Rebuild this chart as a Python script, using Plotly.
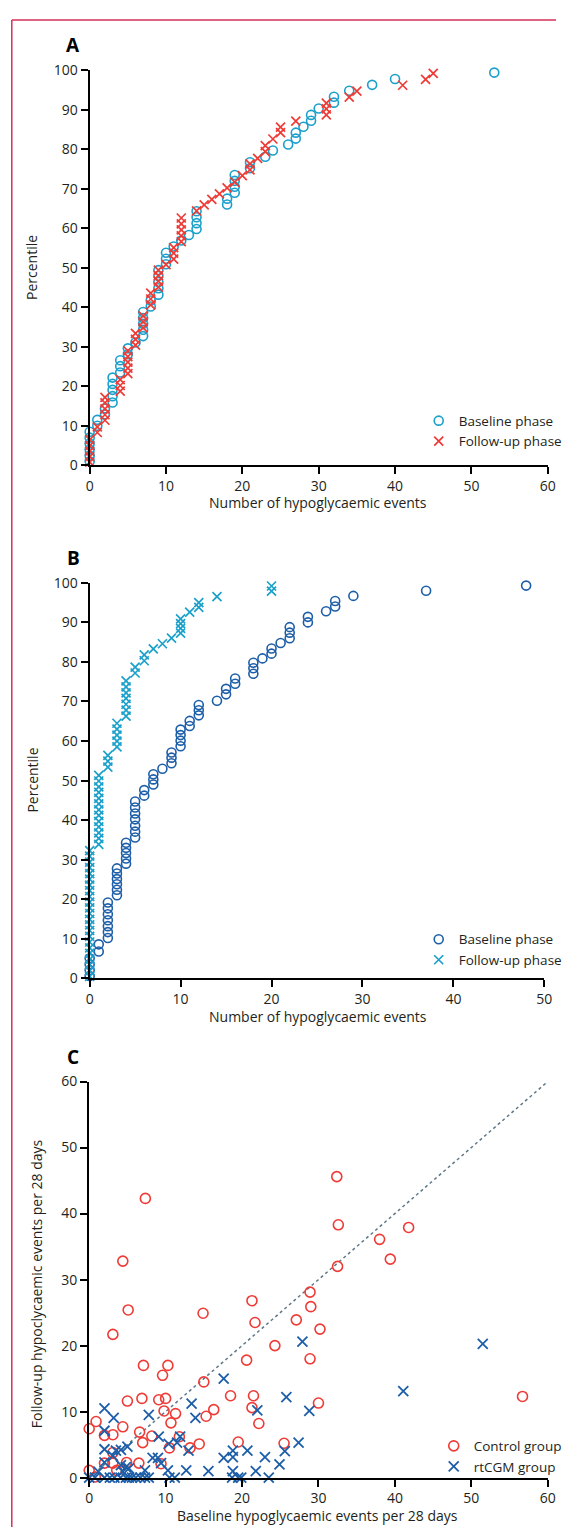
import plotly.graph_objects as go

# ---------------- Data ----------------
# Panel A
a_base_x = [0, 0, 0, 0, 0, 0, 1, 1, 2, 2, 3, 3, 3, 3, 3, 4, 4, 4, 5, 5, 6,
            7, 7, 7, 7, 7, 8, 8, 9, 9, 9, 9, 9, 10, 10, 10, 11, 12, 13,
            14, 14, 14, 14, 18, 18, 19, 19, 19, 19, 21, 21, 23, 24, 26, 27, 27,
            28, 29, 29, 30, 32, 32, 34, 37, 40, 53]
a_base_y = [1.0, 2.5, 4.0, 5.5, 7.0, 8.5, 10.0, 11.5, 12.9, 14.4, 15.9, 17.5, 19.1, 20.6, 22.2,
            23.5, 25.1, 26.6, 28.1, 29.6, 31.1, 32.7, 34.3, 35.8, 37.3, 38.8, 40.2, 41.7,
            43.2, 44.8, 46.4, 47.9, 49.4, 50.9, 52.3, 53.8, 55.4, 56.9, 58.3,
            59.8, 61.3, 62.8, 64.3, 66.0, 67.5, 69.0, 70.5, 72.0, 73.5, 75.2, 76.7, 78.1, 79.7,
            81.2, 82.7, 84.2, 85.7, 87.2, 88.7, 90.3, 91.8, 93.3, 94.8, 96.3, 97.8, 99.4]
a_fu_x = [0, 0, 0, 0, 0, 1, 1, 2, 2, 2, 2, 2, 4, 4, 4, 5, 5, 5, 5, 5, 6, 6, 6,
          7, 7, 7, 8, 8, 8, 9, 9, 9, 9, 10, 11, 11, 11, 12, 12, 12, 12, 12,
          14, 15, 16, 17, 18, 19, 20, 21, 21, 22, 23, 23, 24, 25, 25, 27,
          31, 31, 31, 34, 35, 41, 44, 45]
a_fu_y = [0.8, 2.2, 3.6, 5.0, 6.5, 8.3, 9.7, 11.4, 12.8, 14.3, 15.8, 17.2, 18.8, 20.2, 21.7,
          23.2, 24.6, 26.1, 27.5, 29.0, 30.4, 31.9, 33.4, 34.8, 36.3, 37.8, 40.6, 42.1, 43.6,
          45.1, 46.6, 48.0, 49.4, 50.8, 52.2, 53.7, 55.1, 56.6, 58.1, 59.6, 61.1, 62.6,
          64.4, 65.9, 67.3, 68.7, 70.2, 71.7, 73.3, 74.8, 76.3, 77.7, 79.4, 80.9, 82.6,
          84.2, 85.6, 87.1, 88.7, 90.2, 91.7, 93.2, 94.7, 96.2, 97.7, 99.2]

# Panel B
b_base_x = [0, 0, 0, 0, 1, 1, 2, 2, 2, 2, 2, 2, 2, 3, 3, 3, 3, 3, 3, 4, 4, 4, 4, 4,
            5, 5, 5, 5, 5, 5, 5, 6, 6, 7, 7, 7, 8, 9, 9, 9, 10, 10, 10, 10, 11, 11,
            12, 12, 12, 14, 15, 15, 16, 16, 18, 18, 18, 19, 20, 20, 21, 22, 22, 22,
            24, 24, 26, 27, 27, 29, 37, 48]
b_base_y = [0.6, 2.1, 3.6, 5.1, 6.8, 8.6, 10.2, 11.7, 13.2, 14.7, 16.2, 17.7, 19.2,
            21.0, 22.4, 23.8, 25.1, 26.5, 27.8, 29.0, 30.3, 31.7, 33.0, 34.3,
            35.6, 37.1, 38.6, 40.2, 41.7, 43.2, 44.7, 46.2, 47.6, 49.0, 50.3, 51.6, 53.0,
            54.4, 55.8, 57.1, 58.7, 60.1, 61.5, 62.9, 63.8, 65.1, 66.5, 67.8, 69.1, 70.2,
            71.8, 73.2, 74.5, 75.8, 77.0, 78.4, 79.8, 80.9, 82.1, 83.4, 84.8, 86.0, 87.4, 88.8,
            90.0, 91.4, 92.8, 94.0, 95.4, 96.7, 98.0, 99.3]
b_fu_x = [0] * 23 + [1] * 13 + [2, 2, 2, 3, 3, 3, 3, 3, 4, 4, 4, 4, 4, 4, 4, 5, 5, 6, 6,
                                7, 8, 9, 10, 10, 10, 10, 11, 12, 12, 14, 20, 20]
b_fu_y = [0.5, 1.9, 3.4, 4.8, 6.3, 7.7, 9.2, 10.6, 12.1, 13.5, 14.9, 16.4, 17.8, 19.3,
          20.7, 22.2, 23.6, 25.1, 26.5, 28.0, 29.4, 30.9, 32.3,
          33.9, 35.4, 36.8, 38.3, 39.7, 41.2, 42.6, 44.1, 45.5, 47.0, 48.4, 49.9, 51.3,
          53.4, 54.9, 56.4, 58.5, 60.0, 61.5, 63.0, 64.5,
          66.3, 67.8, 69.3, 70.8, 72.2, 73.7, 75.2, 77.2, 78.7, 80.3, 81.8,
          83.3, 84.6, 86.0, 87.3, 88.5, 89.7, 90.9, 92.6, 93.8, 95.0, 96.5, 97.9, 99.2]

# Panel C
c_ctrl_x = [5.1, 3.1, 14.9, 7.1, 10.3, 9.6, 15.0, 5.0, 6.9, 9.1, 10.0, 18.5, 9.8, 11.3, 16.3,
            15.3, 10.7, 0.9, 0.0, 4.4, 3.1, 2.0, 6.6, 8.2, 7.0, 11.8, 10.5, 13.2, 14.4, 3.1,
            2.0, 3.1, 4.9, 6.5, 9.4, 3.6, 0.0, 0.8, 19.5, 7.35, 4.4, 32.4, 32.6, 41.8, 38.0,
            39.4, 32.5, 28.9, 21.3, 29.0, 27.1, 21.7, 30.2, 24.3, 20.6, 28.9, 21.5, 30.0,
            21.3, 22.2, 56.7, 25.5]
c_ctrl_y = [25.4, 21.7, 24.9, 17.0, 17.0, 15.5, 14.5, 11.6, 12.0, 11.8, 12.0, 12.4, 10.1, 9.7, 10.3,
            9.3, 8.3, 8.5, 7.4, 7.7, 6.5, 6.4, 6.9, 6.3, 5.3, 6.2, 4.5, 4.5, 5.1, 3.8,
            2.2, 2.2, 2.3, 2.2, 2.1, 1.1, 1.1, 0.1, 5.4, 42.3, 32.8, 45.6, 38.3, 37.9, 36.1,
            33.1, 32.0, 28.1, 26.8, 25.9, 23.9, 23.5, 22.5, 20.0, 17.8, 18.0, 12.4, 11.3,
            10.6, 8.2, 12.3, 5.2]
c_cgm_x = [2.0, 3.2, 2.0, 7.8, 13.4, 13.9, 17.6, 9.1, 10.4, 11.5, 11.9, 13.0, 2.0, 4.15, 5.0,
           3.1, 3.5, 8.3, 9.0, 9.4, 2.0, 4.15, 4.8, 5.2, 4.4, 1.2, 7.3, 10.3, 12.7, 15.6,
           17.6, 18.8, 18.8, 18.8,
           0.0, 0.75, 2.0, 2.7, 3.3, 4.1, 4.8, 5.2, 5.6, 6.1, 6.7, 7.3, 7.8, 10.5, 11.2,
           27.9, 51.5, 41.1, 25.8, 22.0, 28.8, 27.4, 20.7, 25.6, 23.0, 24.9, 21.8,
           23.5, 18.7, 19.5, 19.9]
c_cgm_y = [10.5, 9.05, 7.1, 9.5, 11.2, 9.05, 15.0, 6.2, 5.1, 5.3, 6.2, 4.1, 4.3, 4.2, 4.7,
           3.3, 4.1, 3.0, 3.0, 2.2, 2.3, 1.9, 1.6, 1.4, 0.9, 0.9, 1.1, 1.1, 1.1, 1.0,
           3.0, 3.1, 4.1, 1.0,
           0, 0, 0, 0, 0, 0, 0, 0, 0, 0, 0, 0, 0, 0, 0,
           20.6, 20.25, 13.1, 12.2, 10.2, 10.1, 5.3, 4.1, 4.0, 3.1, 2.0, 1.0,
           0, 0, 0, 0]
identity = [0, 60]

# tick values / labels
a_xticks = [0, 10, 20, 30, 40, 50, 60]
b_xticks = [0, 10, 20, 30, 40, 50]
pct_ticks = [0, 10, 20, 30, 40, 50, 60, 70, 80, 90, 100]
c_ticks = [0, 10, 20, 30, 40, 50, 60]

# ---------------- Styling ----------------
W, H = 567, 1536
FONT = "Open Sans"
TXT = "#231f20"
CYAN = "#1ba0cb"
RED = "#ee3b36"
DBLUE = "#1d5ea8"
BORDER = "#d62f58"


def dx(px):
    return px / W


def dy(py):
    return 1 - py / H


fig = go.Figure()

circ = dict(symbol="circle-open", size=9)
cross = dict(symbol="x-thin-open", size=9)

fig.add_trace(go.Scatter(x=a_base_x, y=a_base_y, mode="markers", name="Baseline phase",
                         marker=dict(**circ, color=CYAN, line=dict(width=1.6, color=CYAN)),
                         xaxis="x", yaxis="y", legend="legend", cliponaxis=False))
fig.add_trace(go.Scatter(x=a_fu_x, y=a_fu_y, mode="markers", name="Follow-up phase",
                         marker=dict(**cross, color=RED, line=dict(width=1.7, color=RED)),
                         xaxis="x", yaxis="y", legend="legend", cliponaxis=False))

fig.add_trace(go.Scatter(x=b_base_x, y=b_base_y, mode="markers", name="Baseline phase",
                         marker=dict(**circ, color=DBLUE, line=dict(width=1.6, color=DBLUE)),
                         xaxis="x2", yaxis="y2", legend="legend2", cliponaxis=False))
fig.add_trace(go.Scatter(x=b_fu_x, y=b_fu_y, mode="markers", name="Follow-up phase",
                         marker=dict(**cross, color=CYAN, line=dict(width=1.7, color=CYAN)),
                         xaxis="x2", yaxis="y2", legend="legend2", cliponaxis=False))

fig.add_trace(go.Scatter(x=identity, y=identity, mode="lines", showlegend=False,
                         line=dict(color="#5f7888", width=1.5, dash="3px,3px"),
                         xaxis="x3", yaxis="y3", hoverinfo="skip"))
fig.add_trace(go.Scatter(x=c_ctrl_x, y=c_ctrl_y, mode="markers", name="Control group",
                         marker=dict(symbol="circle-open", size=10, color=RED,
                                     line=dict(width=1.6, color=RED)),
                         xaxis="x3", yaxis="y3", legend="legend3", cliponaxis=False))
fig.add_trace(go.Scatter(x=c_cgm_x, y=c_cgm_y, mode="markers", name="rtCGM group",
                         marker=dict(symbol="x-thin-open", size=10, color=DBLUE,
                                     line=dict(width=1.8, color=DBLUE)),
                         xaxis="x3", yaxis="y3", legend="legend3", cliponaxis=False))

axis_common = dict(showline=True, linecolor="black", linewidth=2, ticks="outside",
                   ticklen=7, tickwidth=2, tickcolor="black", showgrid=False,
                   zeroline=False, tickfont=dict(family=FONT, size=14, color=TXT),
                   fixedrange=True)

LEGFONT = dict(family=FONT, size=13.5, color=TXT)

fig.update_layout(
    width=W, height=H, autosize=False,
    margin=dict(l=0, r=0, t=0, b=0),
    paper_bgcolor="white", plot_bgcolor="white",
    font=dict(family=FONT, size=14, color=TXT),
    xaxis=dict(domain=[dx(88), dx(558.5)], range=[0, 60], tickvals=a_xticks, anchor="y", **axis_common),
    yaxis=dict(domain=[dy(461), dy(61)], range=[0, 100], tickvals=pct_ticks, anchor="x", **axis_common),
    xaxis2=dict(domain=[dx(88), dx(555)], range=[0, 50], tickvals=b_xticks, anchor="y2", **axis_common),
    yaxis2=dict(domain=[dy(980.5), dy(580)], range=[0, 100], tickvals=pct_ticks, anchor="x2", **axis_common),
    xaxis3=dict(domain=[dx(87.5), dx(558.5)], range=[0, 60], tickvals=c_ticks, anchor="y3", **axis_common),
    yaxis3=dict(domain=[dy(1486), dy(1085)], range=[0, 60], tickvals=c_ticks, anchor="x3", **axis_common),
    legend=dict(x=dx(578), y=dy(453), xanchor="right", yanchor="bottom",
                bgcolor="rgba(0,0,0,0)", font=LEGFONT, itemwidth=30, tracegroupgap=0),
    legend2=dict(x=dx(578), y=dy(978), xanchor="right", yanchor="bottom",
                 bgcolor="rgba(0,0,0,0)", font=LEGFONT, itemwidth=30, tracegroupgap=0),
    legend3=dict(x=dx(578), y=dy(1491), xanchor="right", yanchor="bottom",
                 bgcolor="rgba(0,0,0,0)", font=LEGFONT, itemwidth=30, tracegroupgap=0),
    showlegend=True,
)

annos = [
    dict(text="<b>A</b>", x=dx(71), y=dy(35), size=19),
    dict(text="<b>B</b>", x=dx(71), y=dy(555), size=19),
    dict(text="<b>C</b>", x=dx(71), y=dy(1060), size=19),
    dict(text="Number of hypoglycaemic events", x=dx(323), y=dy(499), size=14),
    dict(text="Number of hypoglycaemic events", x=dx(323), y=dy(1019), size=14),
    dict(text="Baseline hypoglycaemic events per 28 days", x=dx(322), y=dy(1524), size=14),
    dict(text="Percentile", x=dx(29), y=dy(261), size=14, angle=-90),
    dict(text="Percentile", x=dx(29), y=dy(780), size=14, angle=-90),
    dict(text="Follow-up hypoclycaemic events per 28 days", x=dx(33), y=dy(1290), size=14, angle=-90),
]
for a in annos:
    fig.add_annotation(text=a["text"], x=a["x"], y=a["y"], xref="paper", yref="paper",
                       showarrow=False, xanchor="center", yanchor="middle",
                       textangle=a.get("angle", 0),
                       font=dict(family=FONT, size=a["size"], color=TXT if a["size"] < 19 else "black"))

# page frame lines
fig.add_shape(type="line", xref="paper", yref="paper", x0=dx(8), x1=1.0, y0=dy(10), y1=dy(10),
              line=dict(color=BORDER, width=1.5))
fig.add_shape(type="line", xref="paper", yref="paper", x0=dx(8), x1=dx(8), y0=dy(10), y1=0,
              line=dict(color=BORDER, width=1.5))

fig.write_html(
    "out.html",
    config={"displayModeBar": False},
    post_script="document.body.style.margin='0';document.body.style.padding='0';"
                "document.documentElement.style.overflow='hidden';",
)
